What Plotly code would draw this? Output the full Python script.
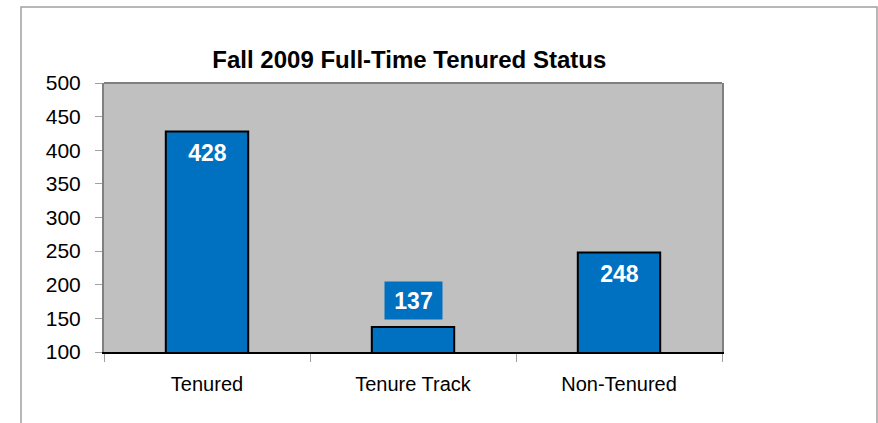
import plotly.graph_objects as go

categories = ["Tenured", "Tenure Track", "Non-Tenured"]
values = [428, 137, 248]
y_ticks = [100, 150, 200, 250, 300, 350, 400, 450, 500]
title_text = "Fall 2009 Full-Time Tenured Status"

BAR = "#0070C0"
FONT = "Arial, Liberation Sans, sans-serif"

W, H = 878, 423
ML, MR, MT, MB = 104, 156, 83, 71
pw = W - ML - MR
ph = H - MT - MB

fig = go.Figure()
fig.add_trace(go.Bar(
    x=categories, y=values,
    marker=dict(color=BAR, line=dict(color="black", width=2)),
    width=0.4, hoverinfo="skip",
))

# value labels
for c, v in zip(categories, values):
    inside = v > 200
    fig.add_annotation(
        x=c, y=v, xref="x", yref="y",
        text=f"<b>{v}</b>", showarrow=False,
        font=dict(family=FONT, size=23, color="white"),
        bgcolor=BAR, width=55, height=35,
        yanchor="middle",
        yshift=-21 if inside else 27,
    )

# top border of plot area
fig.add_shape(type="line", xref="x domain", yref="y domain",
              x0=0, x1=1, y0=1, y1=1, line=dict(color="#808080", width=2))
# outer chart border
fig.add_shape(type="rect", xref="paper", yref="paper",
              x0=(21 - ML) / pw, x1=(877 - ML) / pw,
              y0=-0.5, y1=1 + (MT - 7) / ph,
              line=dict(color="#A0A0A0", width=1.5), layer="below")

fig.update_layout(
    width=W, height=H,
    margin=dict(l=ML, r=MR, t=MT, b=MB),
    paper_bgcolor="white", plot_bgcolor="#C0C0C0",
    showlegend=False,
    font=dict(family=FONT, color="black"),
    title=dict(text=f"<b>{title_text}</b>", x=0.494, xref="paper",
               y=1 - 60 / H, yref="container", yanchor="middle",
               font=dict(family=FONT, size=24, color="black")),
    xaxis=dict(
        showgrid=False, showline=True, linecolor="black", linewidth=2,
        ticks="outside", tickson="boundaries", ticklen=8, tickcolor="#A0A0A0",
        tickfont=dict(family=FONT, size=20, color="black"),
        ticklabelstandoff=13,
    ),
    yaxis=dict(
        range=[100, 500], tickvals=y_ticks, showgrid=False,
        showline=True, linecolor="#808080", linewidth=2, mirror=True,
        ticks="outside", ticklen=7, tickcolor="#A0A0A0",
        tickfont=dict(family=FONT, size=21, color="black"),
        ticklabelstandoff=10, zeroline=False,
    ),
)

fig.write_html("out.html", config={"displayModeBar": False},
               post_script="document.body.style.margin='0';")
